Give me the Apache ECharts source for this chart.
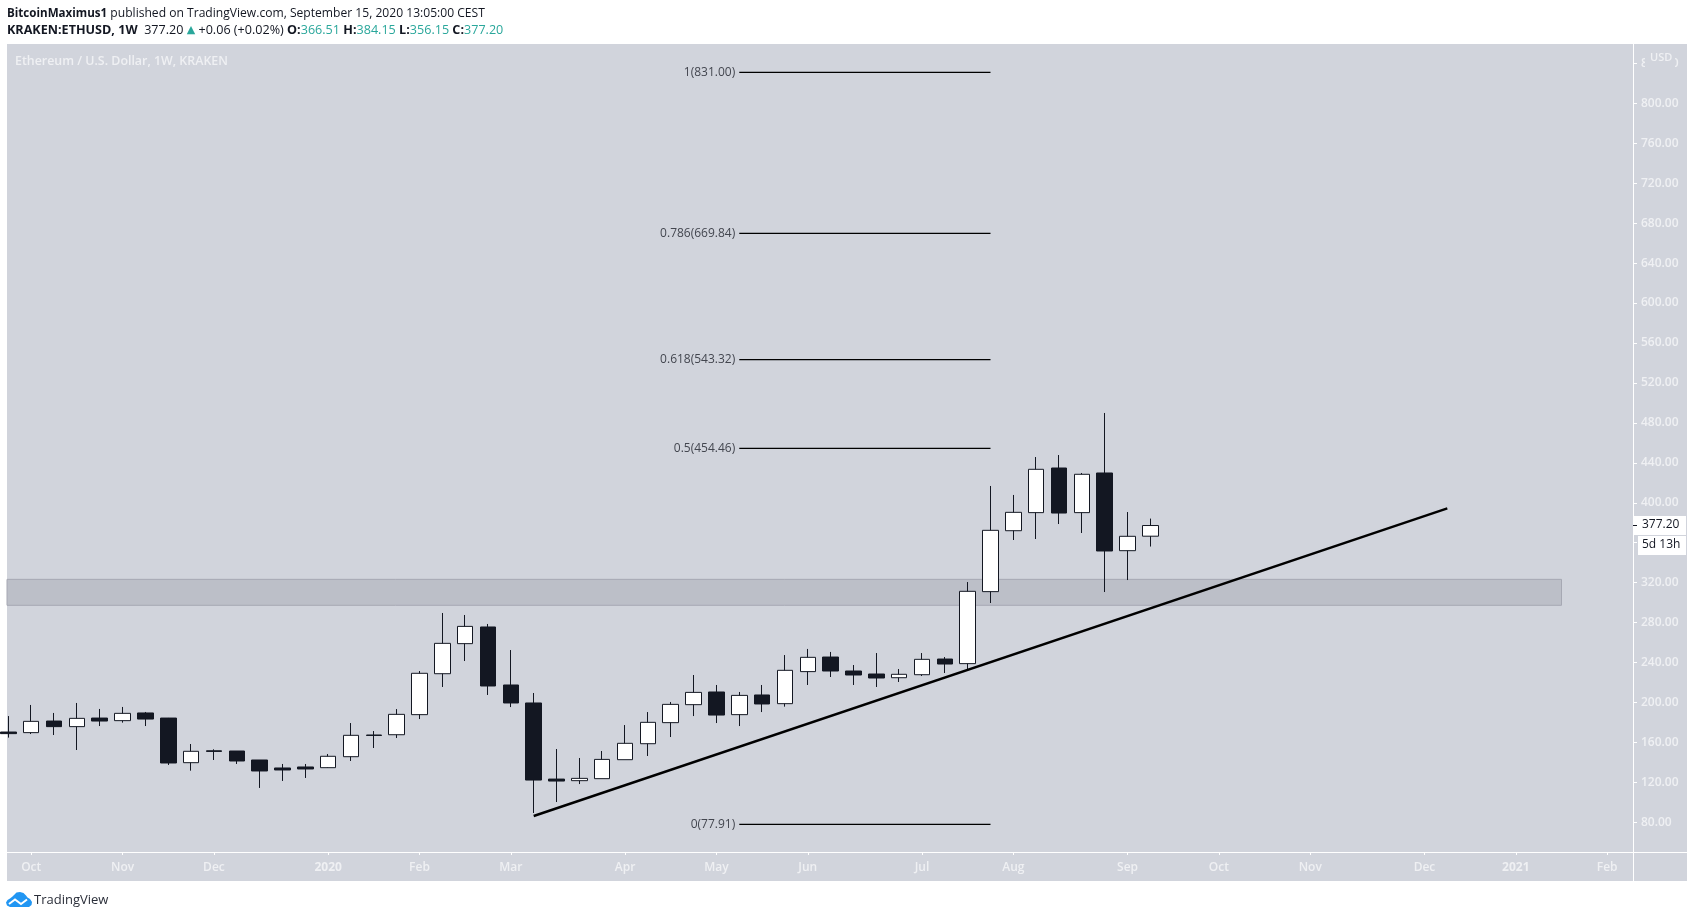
<!DOCTYPE html>
<html>
<head>
<meta charset="utf-8">
<title>ETHUSD 1W</title>
<script src="https://cdn.jsdelivr.net/npm/echarts@6/dist/echarts.min.js"></script>
<style>
    html, body { margin: 0; padding: 0; background: #ffffff; }
    #chart { width: 1694px; height: 918px; }
</style>
</head>
<body>
<div id="chart"></div>
<script>
// weekly bars, first one is 2019-09-30, one entry per week
const opens = [170.4, 169.8, 181.4, 175.8, 184.4, 181.8, 189.5, 184.4, 139.7, 151.6, 151.4, 142.4, 134.4, 135.4, 134.7, 145.7, 167.4,
    167.7, 187.8, 228.8, 258.9, 275.6, 217.5, 199.5, 123.3, 121.7, 123.7, 142.7, 158.7, 179.8, 197.8, 210.5, 187.8, 207.5,
    198.8, 230.9, 245.5, 231.5, 228.5, 224.8, 227.8, 243.5, 238.9, 311.0, 372.0, 390.1, 434.8, 390.1, 429.8, 352.0, 366.51];
const closes = [168.8, 181.1, 175.8, 184.1, 181.4, 189.1, 183.4, 139.4, 151.1, 151.0, 141.4, 131.4, 132.4, 133.4, 146.1, 167.1, 167.0,
    188.1, 229.2, 259.2, 276.2, 216.5, 199.5, 122.3, 121.3, 124.0, 143.0, 159.1, 180.1, 198.1, 210.1, 187.4, 207.1, 198.5,
    232.2, 245.2, 231.5, 227.5, 224.5, 228.2, 243.2, 238.5, 311.3, 372.4, 390.4, 433.5, 389.7, 428.5, 351.7, 366.4, 377.20];
const lows = [164.8, 168.4, 167.4, 152.4, 176.4, 179.8, 176.4, 137.4, 131.7, 142.4, 138.4, 114.4, 121.4, 124.4, 134.4, 141.4, 154.4,
    164.4, 183.4, 215.5, 241.5, 207.5, 195.4, 89.3, 100.3, 118.3, 123.7, 142.7, 146.4, 165.4, 186.4, 179.4, 176.4, 190.4,
    195.8, 217.5, 225.5, 217.5, 215.5, 220.5, 226.5, 229.5, 233.2, 299.6, 362.7, 363.7, 378.7, 369.7, 310.6, 322.6, 356.15];
const highs = [186.4, 197.5, 189.5, 199.5, 193.5, 195.5, 190.5, 184.5, 158.4, 153.1, 151.4, 142.4, 138.4, 138.4, 148.4, 179.4, 171.4,
    193.4, 231.5, 289.6, 287.6, 278.6, 252.5, 209.5, 153.4, 144.4, 151.4, 177.4, 190.4, 200.5, 227.5, 217.5, 210.5, 217.5,
    247.5, 253.6, 250.6, 237.5, 249.5, 233.5, 249.5, 245.5, 320.6, 416.8, 407.8, 445.8, 447.8, 429.8, 489.9, 390.7, 384.15];

// time axis: week number of the first bar of each month
const monthWeeks = [1, 5, 9, 14, 18, 22, 27, 31, 35, 40, 44, 49, 53, 57, 62, 66, 70];
const monthNames = ['Oct', 'Nov', 'Dec', '2020', 'Feb', 'Mar', 'Apr', 'May', 'Jun', 'Jul', 'Aug', 'Sep', 'Oct', 'Nov', 'Dec', '2021', 'Feb'];
const priceTicks = [80, 120, 160, 200, 240, 280, 320, 360, 400, 440, 480, 520, 560, 600, 640, 680, 720, 760, 800, 840];

// drawings
const fibNames = ['1', '0.786', '0.618', '0.5', '0'];
const fibPrices = [831.00, 669.84, 543.32, 454.46, 77.91];
const fibWeeks = [32, 43];
const trendWeeks = [23, 63];
const trendPrices = [86.3, 394.4];
const zoneWeeks = [-2, 68];
const zonePrices = [323.3, 297.3];

const BG = '#d1d4dc';
const DARK = '#131722';
const TEAL = '#2aa79b';
const LABEL = '#eff0f3';
const FONT = '"Open Sans", "Noto Sans", sans-serif';

let candleData = opens.map(function (o, i) {
    return [i, o, closes[i], lows[i], highs[i]];
});
let fibSeries = fibPrices.map(function (p, i) {
    return {
        name: 'fib ' + fibNames[i],
        type: 'line',
        z: 5,
        showSymbol: true,
        showAllSymbol: true,
        symbol: 'circle',
        symbolSize: 0,
        silent: true,
        lineStyle: { color: '#000000', width: 1.3 },
        label: {
            show: true,
            position: 'left',
            distance: 4,
            color: '#43464f',
            fontFamily: FONT,
            fontSize: 12,
            formatter: function (params) {
                return params.dataIndex === 0 ? fibNames[i] + '(' + p.toFixed(2) + ')' : '';
            }
        },
        data: [[fibWeeks[0], p], [fibWeeks[1], p]]
    };
});

let myChart = echarts.init(document.getElementById('chart'), null, { renderer: 'canvas' });
myChart.setOption({
    animation: false,
    backgroundColor: '#ffffff',
    grid: { left: 7, right: 61, top: 44, bottom: 66, show: false },
    xAxis: {
        type: 'value',
        min: -0.06,
        max: 71.13,
        splitLine: { show: false },
        axisLine: { show: true, onZero: false, lineStyle: { color: '#ffffff', width: 1 } },
        axisTick: { show: true, length: 3, customValues: monthWeeks, lineStyle: { color: '#ffffff' } },
        axisLabel: {
            show: true,
            margin: 10,
            customValues: monthWeeks,
            color: LABEL,
            fontFamily: FONT,
            fontSize: 12,
            fontWeight: 600,
            formatter: function (v) {
                let name = monthNames[monthWeeks.indexOf(v)];
                return /^\d+$/.test(name) ? '{y|' + name + '}' : name;
            },
            rich: { y: { fontWeight: 'bold', fontSize: 12, color: LABEL, fontFamily: FONT } }
        }
    },
    yAxis: {
        type: 'value',
        position: 'right',
        min: 50.26,
        max: 859.4,
        splitLine: { show: false },
        axisLine: { show: true, onZero: false, lineStyle: { color: '#ffffff', width: 1 } },
        axisTick: { show: true, length: 4, customValues: priceTicks, lineStyle: { color: '#ffffff' } },
        axisLabel: {
            show: true,
            margin: 8,
            customValues: priceTicks,
            color: LABEL,
            fontFamily: FONT,
            fontSize: 12,
            fontWeight: 600,
            formatter: function (v) { return v.toFixed(2); }
        }
    },
    series: [
        {
            name: 'ETHUSD',
            type: 'candlestick',
            z: 2,
            barWidth: 16,
            clip: true,
            itemStyle: {
                color: '#ffffff',
                color0: DARK,
                borderColor: DARK,
                borderColor0: DARK,
                borderWidth: 1
            },
            data: candleData
        },
        {
            name: 'zone',
            type: 'line',
            z: 3,
            data: [],
            clip: true,
            markArea: {
                silent: true,
                itemStyle: { color: 'rgba(106, 109, 120, 0.2)', borderColor: '#a6a8b3', borderWidth: 1 },
                data: [[
                    { xAxis: zoneWeeks[0], yAxis: zonePrices[0] },
                    { xAxis: zoneWeeks[1], yAxis: zonePrices[1] }
                ]]
            }
        },
        {
            name: 'trend',
            type: 'line',
            z: 4,
            showSymbol: false,
            lineStyle: { color: '#000000', width: 2.4 },
            data: [[trendWeeks[0], trendPrices[0]], [trendWeeks[1], trendPrices[1]]]
        }
    ].concat(fibSeries),
    graphic: [
        // chart panel behind the grid
        { type: 'rect', z: -10, silent: true, shape: { x: 7, y: 44, width: 1680, height: 837 }, style: { fill: BG } },
        // axis lines run on to the panel edge
        { type: 'line', z: 1, silent: true, shape: { x1: 1633.5, y1: 44, x2: 1633.5, y2: 881 }, style: { stroke: '#ffffff', lineWidth: 1 } },
        { type: 'line', z: 1, silent: true, shape: { x1: 7, y1: 852.5, x2: 1687, y2: 852.5 }, style: { stroke: '#ffffff', lineWidth: 1 } },
        // header
        {
            type: 'text', z: 20, silent: true, x: 7, y: 7.5,
            style: {
                text: '{b|BitcoinMaximus1} published on TradingView.com, September 15, 2020 13:05:00 CEST',
                fill: DARK, fontFamily: FONT, fontSize: 12.1,
                rich: { b: { fontWeight: 'bold', fill: DARK, fontFamily: FONT, fontSize: 11.6 } }
            }
        },
        {
            type: 'text', z: 20, silent: true, x: 7, y: 23.5,
            style: {
                text: '{b|KRAKEN:ETHUSD, 1W}  377.20 {a|▲} +0.06 (+0.02%) {b|O:}{t|366.51} {b|H:}{t|384.15} {b|L:}{t|356.15} {b|C:}{t|377.20}',
                fill: DARK, fontFamily: FONT, fontSize: 12.6,
                rich: {
                    b: { fontWeight: 'bold', fill: DARK, fontFamily: FONT, fontSize: 12.6 },
                    t: { fill: TEAL, fontFamily: FONT, fontSize: 12.6 },
                    a: { fill: TEAL, fontFamily: 'DejaVu Sans', fontSize: 11 }
                }
            }
        },
        {
            type: 'text', z: 20, silent: true, x: 15, y: 55,
            style: { text: 'Ethereum / U.S. Dollar, 1W, KRAKEN', fill: LABEL, fontFamily: FONT, fontSize: 12.4, fontWeight: 600 }
        },
        // currency tag sits over the top price label
        {
            type: 'rect', z: 20, silent: true, shape: { x: 1645, y: 50, width: 30, height: 17 }, style: { fill: BG }
        },
        {
            type: 'text', z: 21, silent: true, x: 1650, y: 52.5,
            style: { text: 'USD', fill: LABEL, fontFamily: FONT, fontSize: 11, fontWeight: 600 }
        },
        // last price and countdown
        { type: 'rect', z: 20, silent: true, shape: { x: 1634, y: 516, width: 52, height: 19 }, style: { fill: '#ffffff' } },
        { type: 'line', z: 21, silent: true, shape: { x1: 1633, y1: 525.5, x2: 1637, y2: 525.5 }, style: { stroke: DARK, lineWidth: 1 } },
        { type: 'text', z: 21, silent: true, x: 1642, y: 519, style: { text: '377.20', fill: DARK, fontFamily: FONT, fontSize: 12 } },
        { type: 'rect', z: 20, silent: true, shape: { x: 1638, y: 536, width: 48, height: 19 }, style: { fill: '#ffffff' } },
        { type: 'text', z: 21, silent: true, x: 1642, y: 539, style: { text: '5d 13h', fill: DARK, fontFamily: FONT, fontSize: 12 } },
        // logo
        {
            type: 'polygon', z: 20, silent: true,
            shape: {
                points: [[10, 907], [7, 905.5], [6, 902.5], [7.5, 900], [10, 898.5], [12.5, 896.5], [14, 895], [16.5, 892.5], [20, 892], [23.5, 893],
                    [26, 895.5], [27.5, 897.5], [30, 899], [32, 902], [31.5, 905], [29, 907]]
            },
            style: { fill: '#2196f3' }
        },
        {
            type: 'polyline', z: 21, silent: true,
            shape: { points: [[9, 904], [15, 899.5], [21, 904], [27, 899.5]] },
            style: { stroke: '#ffffff', lineWidth: 2, fill: null }
        },
        {
            type: 'text', z: 20, silent: true, x: 34, y: 893.5,
            style: { text: 'TradingView', fill: '#2a2e39', fontFamily: FONT, fontSize: 13 }
        }
    ]
});
window.addEventListener('resize', function () {
    myChart.resize();
});
</script>
</body>
</html>
